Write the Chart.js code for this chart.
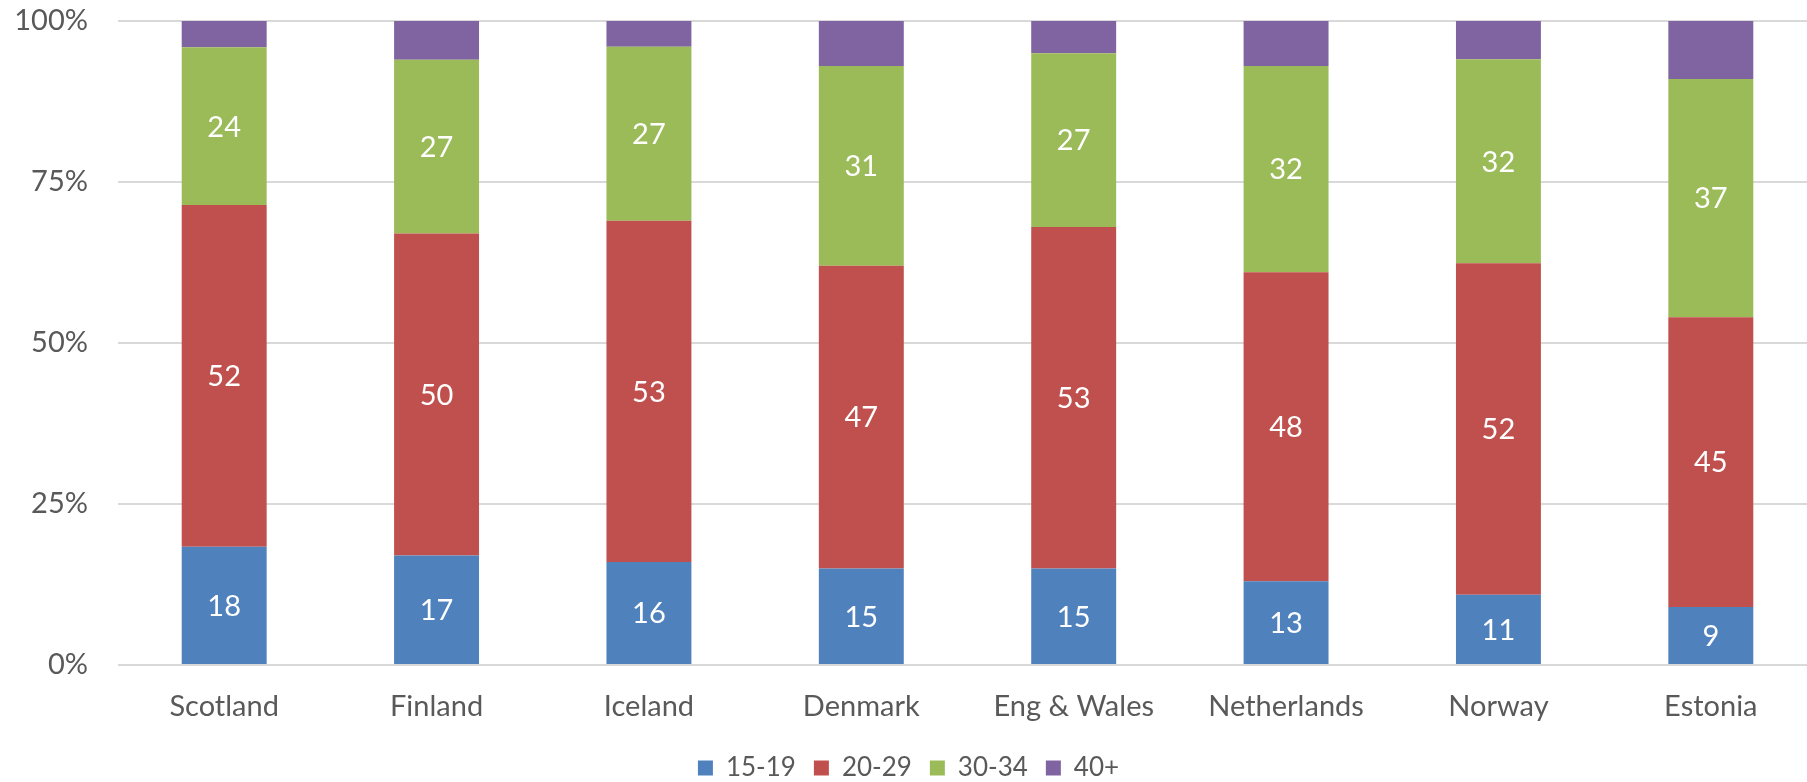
<!DOCTYPE html>
<html>
<head>
<meta charset="utf-8">
<script src="https://cdn.jsdelivr.net/npm/chart.js@4"></script>
<style>
  html, body { margin: 0; padding: 0; background: #fff; overflow: hidden; }
</style>
</head>
<body>
<canvas id="ageChart" width="1817" height="791"></canvas>
<script>
const countries = ["Scotland", "Finland", "Iceland", "Denmark", "Eng & Wales", "Netherlands", "Norway", "Estonia"];
const age15to19 = [18, 17, 16, 15, 15, 13, 11, 9];
const age20to29 = [52, 50, 53, 47, 53, 48, 52, 45];
const age30to34 = [24, 27, 27, 31, 27, 32, 32, 37];
const age40plus = [4, 6, 4, 7, 5, 7, 6, 9];
const seriesNames = ["15-19", "20-29", "30-34", "40+"];
const seriesColors = ["#4f81bd", "#c0504d", "#9bbb59", "#8064a2"];

// 100% stacked: each bar is shares of the country's total
const allSeries = [age15to19, age20to29, age30to34, age40plus];
const totals = countries.map((c, i) => allSeries.reduce((s, arr) => s + arr[i], 0));
const toPercent = (arr) => arr.map((v, i) => (v / totals[i]) * 100);

const FONT = "Lato";
const textColor = "#595959";

const valueLabels = {
  id: "valueLabels",
  afterDatasetsDraw(chart) {
    const ctx = chart.ctx;
    ctx.save();
    ctx.fillStyle = "#ffffff";
    ctx.font = "29px " + FONT;
    ctx.textAlign = "center";
    ctx.textBaseline = "middle";
    chart.data.datasets.forEach((ds, i) => {
      if (!ds.showValues) return;
      chart.getDatasetMeta(i).data.forEach((bar, j) => {
        ctx.fillText(ds.rawValues[j], bar.x, (bar.y + bar.base) / 2 + 1);
      });
    });
    ctx.restore();
  },
};

const ctx = document.getElementById("ageChart").getContext("2d");

const datasets = allSeries.map((arr, i) => ({
  label: seriesNames[i],
  data: toPercent(arr),
  rawValues: arr,
  showValues: i < 3,
  backgroundColor: seriesColors[i],
  borderWidth: 0,
  categoryPercentage: 1,
  barPercentage: 0.4,
}));

new Chart(ctx, {
  type: "bar",
  data: { labels: countries, datasets: datasets },
  plugins: [valueLabels],
  options: {
    responsive: false,
    animation: false,
    layout: { padding: { top: 21, right: 0, left: 0, bottom: 0 } },
    scales: {
      x: {
        stacked: true,
        grid: { display: false, drawTicks: false },
        border: { display: false },
        ticks: {
          color: textColor,
          padding: 24,
          font: { family: FONT, size: 29 },
        },
        afterFit(scale) {
          scale.height = 72;
          scale.paddingLeft = 0;
          scale.paddingRight = 0;
        },
      },
      y: {
        stacked: true,
        min: 0,
        max: 100,
        grid: { color: "#d9d9d9", lineWidth: 2, drawTicks: false },
        border: { display: false },
        ticks: {
          stepSize: 25,
          padding: 30,
          color: textColor,
          font: { family: FONT, size: 29 },
          callback: (v) => v + "%",
        },
        afterFit(scale) {
          scale.width = 118;
          scale.paddingTop = 0;
          scale.paddingBottom = 0;
        },
      },
    },
    plugins: {
      tooltip: { enabled: false },
      legend: {
        position: "bottom",
        labels: {
          boxWidth: 15,
          boxHeight: 15,
          padding: 18,
          color: textColor,
          font: { family: FONT, size: 26 },
        },
      },
    },
  },
});
</script>
</body>
</html>
